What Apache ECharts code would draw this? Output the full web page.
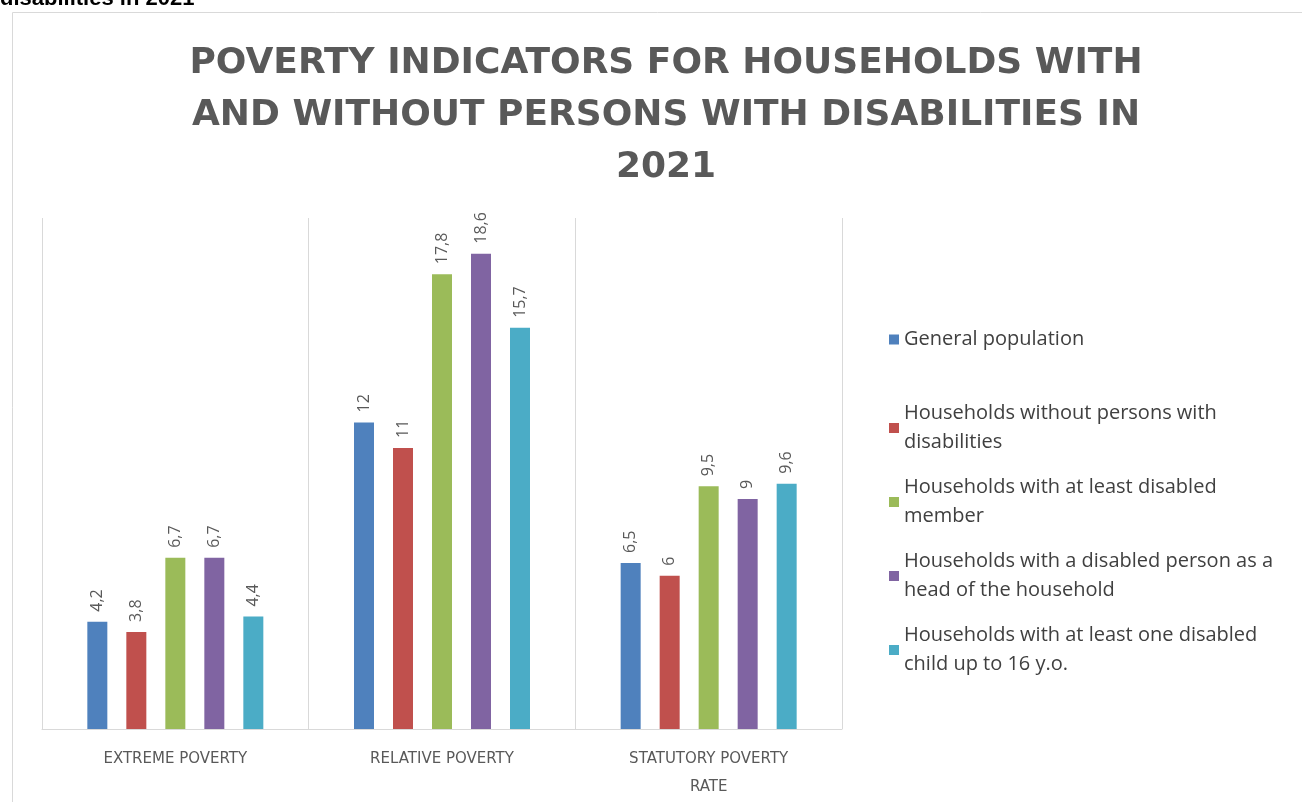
<!DOCTYPE html>
<html>
<head>
<meta charset="utf-8">
<script src="https://cdn.jsdelivr.net/npm/echarts@6/dist/echarts.min.js"></script>
<style>
  html, body { margin: 0; padding: 0; background: #fff; }
  #chart { width: 1302px; height: 802px; }
</style>
</head>
<body>
<div id="chart"></div>
<script>
const categories = ['EXTREME POVERTY', 'RELATIVE POVERTY', 'STATUTORY POVERTY\nRATE']
const seriesNames = [
  'General population',
  'Households without persons with\ndisabilities',
  'Households with at least disabled\nmember',
  'Households with a disabled person as a\nhead of the household',
  'Households with at least one disabled\nchild up to 16 y.o.',
]
const generalPopulation = [4.2, 12, 6.5]
const withoutDisabled = [3.8, 11, 6]
const atLeastDisabled = [6.7, 17.8, 9.5]
const disabledHead = [6.7, 18.6, 9]
const disabledChild = [4.4, 15.7, 9.6]
const colors = ['#4f81bd', '#c0504d', '#9bbb59', '#8064a2', '#4bacc6']

const seriesData = [generalPopulation, withoutDisabled, atLeastDisabled, disabledHead, disabledChild]

const legendText = { fontFamily: 'Open Sans', fontSize: 20, color: '#404040', lineHeight: 29 }

const chart = echarts.init(document.getElementById('chart'))
chart.setOption({
  animation: false,
  color: colors,
  title: {
    text: 'POVERTY INDICATORS FOR HOUSEHOLDS WITH\nAND WITHOUT PERSONS WITH DISABILITIES IN\n2021',
    left: 661,
    top: 33,
    textAlign: 'center',
    textStyle: {
      fontFamily: 'DejaVu Sans',
      fontWeight: 'bold',
      fontSize: 36,
      lineHeight: 52,
      color: '#595959',
    },
  },
  graphic: [
    {
      type: 'rect',
      shape: { x: 12.5, y: 12.5, width: 1300, height: 800 },
      style: { fill: 'none', stroke: '#d9d9d9', lineWidth: 1 },
    },
    {
      type: 'text',
      left: 0,
      top: -12,
      style: { text: 'disabilities in 2021', fontFamily: 'Liberation Sans', fontWeight: 'bold', fontSize: 22, fill: '#000' },
    },
  ],
  legend: [
    {
      orient: 'vertical',
      left: 884,
      top: 320,
      itemWidth: 10,
      itemHeight: 10,
      icon: 'rect',
      data: seriesNames.slice(0, 1),
      textStyle: legendText,
    },
    {
      orient: 'vertical',
      left: 884,
      top: 394,
      itemWidth: 10,
      itemHeight: 10,
      itemGap: 16,
      icon: 'rect',
      data: seriesNames.slice(1),
      textStyle: legendText,
    },
  ],
  grid: { left: 42, right: 460, top: 218, bottom: 73 },
  xAxis: {
    type: 'category',
    data: categories,
    axisTick: { show: false },
    axisLine: { lineStyle: { color: '#d9d9d9' } },
    splitLine: { show: true, lineStyle: { color: '#d9d9d9' } },
    axisLabel: {
      fontFamily: 'DejaVu Sans',
      fontSize: 15,
      color: '#595959',
      lineHeight: 28,
      margin: 16,
      interval: 0,
    },
  },
  yAxis: { type: 'value', min: 0, max: 20, show: false, splitLine: { show: false } },
  series: seriesData.map((data, i) => ({
    name: seriesNames[i],
    type: 'bar',
    data,
    barWidth: 20,
    barGap: '95%',
    label: {
      show: true,
      position: 'top',
      rotate: 90,
      align: 'left',
      verticalAlign: 'middle',
      distance: 10,
      fontFamily: 'Open Sans',
      fontSize: 16,
      color: '#595959',
      formatter: p => String(p.value).replace('.', ','),
    },
  })),
})
</script>
</body>
</html>
